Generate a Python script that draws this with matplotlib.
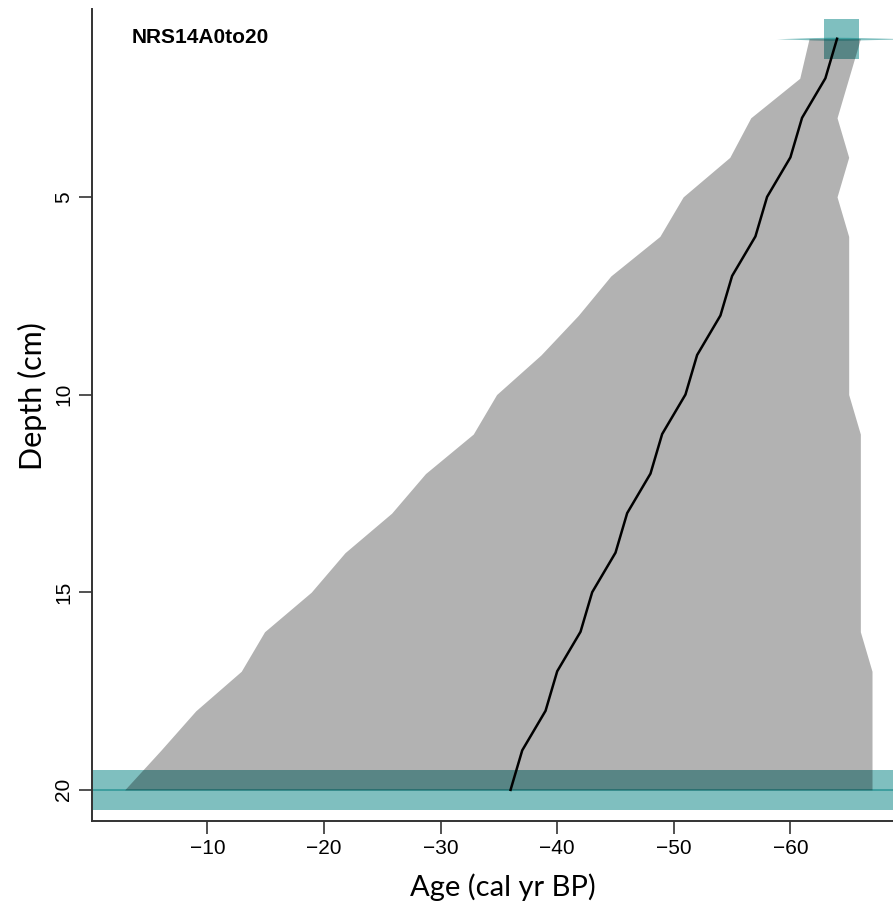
import matplotlib
matplotlib.use("Agg")
import matplotlib.pyplot as plt
from matplotlib.patches import Rectangle

# Age-depth model summary (ages in cal yr BP, negative = post-1950)
depths = [1, 2, 3, 4, 5, 6, 7, 8, 9, 10, 11, 12, 13, 14, 15, 16, 17, 18, 19, 20]
age_median = [-64, -63, -61, -60, -58, -57, -55, -54, -52, -51,
              -49, -48, -46, -45, -43, -42, -40, -39, -37, -36]
age_min = [-61.6, -60.8, -56.6, -54.8, -50.8, -48.8, -44.6, -41.8, -38.6, -34.8,
           -32.8, -28.7, -25.8, -21.8, -18.9, -14.9, -12.9, -9.0, -6.0, -2.9]
age_max = [-66, -65, -64, -65, -64, -65, -65, -65, -65, -65,
           -66, -66, -66, -66, -66, -66, -67, -67, -67, -67]

# Dated levels: depth, sample thickness, age range of the date box
date_depths = [1, 20]
date_thickness = [1.0, 1.0]
date_age_lo = [-62.9, 10.0]
date_age_hi = [-65.9, -80.0]

# Calibrated age distribution of the top date (age, half-height in cm)
top_dist_age = [-58.8, -60.5, -62.0, -63.5, -65.0, -66.5, -68.0, -70.0]
top_dist_half = [0.0, 0.015, 0.03, 0.038, 0.035, 0.025, 0.015, 0.0]
# Bottom date distribution is nearly flat across the whole age range
bot_dist_age = [10.0, -80.0]
bot_dist_half = [0.03, 0.03]

core_name = "NRS14A0to20"
x_ticks = [-10, -20, -30, -40, -50, -60]
y_ticks = [5, 10, 15, 20]

W, H = 893, 911
fig = plt.figure(figsize=(W / 100, H / 100), dpi=100)
ax_left, ax_right, ax_top, ax_bottom = 92, 893, 9.5, 820.7
ax = fig.add_axes([ax_left / W, 1 - ax_bottom / H,
                   (ax_right - ax_left) / W, (ax_bottom - ax_top) / H])

teal = "#008080"

# date boxes
for d, t, lo, hi in zip(date_depths, date_thickness, date_age_lo, date_age_hi):
    ax.add_patch(Rectangle((lo, d - t / 2), hi - lo, t, facecolor=teal,
                           alpha=0.5, edgecolor="none", zorder=1))

# calibrated distributions drawn sideways at their depths
ax.fill_between(top_dist_age,
                [date_depths[0] - h for h in top_dist_half],
                [date_depths[0] + h for h in top_dist_half],
                color=teal, alpha=0.5, linewidth=0, zorder=2)
ax.fill_between(bot_dist_age,
                [date_depths[1] - h for h in bot_dist_half],
                [date_depths[1] + h for h in bot_dist_half],
                color=teal, alpha=0.5, linewidth=0, zorder=2)

# model range (grey envelope) and median
ax.fill_betweenx(depths, age_min, age_max, color="black", alpha=0.3,
                 linewidth=0, zorder=3)
ax.plot(age_median, depths, color="black", linewidth=1.8, zorder=4)

ax.set_xlim(-0.1, -68.8)
ax.set_ylim(20.78, 0.26)

ax.spines["top"].set_visible(False)
ax.spines["right"].set_visible(False)
for s in ("left", "bottom"):
    ax.spines[s].set_linewidth(1.4)
    ax.spines[s].set_color("#333333")

ax.set_xticks(x_ticks)
ax.set_xticklabels(["\u2212%d" % abs(v) for v in x_ticks],
                   family="Liberation Sans", fontsize=15)
ax.set_yticks(y_ticks)
ax.set_yticklabels([str(v) for v in y_ticks], family="Liberation Sans",
                   fontsize=15, rotation=90, va="center")
ax.tick_params(axis="both", length=9.5, width=1.2, color="#333333", pad=4)

fig.text(132 / W, 1 - 43 / H, core_name, family="Liberation Sans",
         fontweight="bold", fontsize=15, va="baseline", ha="left")
fig.text(503 / W, 1 - 887 / H, "Age (cal yr BP)", family="Lato",
         fontsize=21, ha="center", va="center")
fig.text(32 / W, 1 - 396 / H, "Depth (cm)", family="Lato",
         fontsize=22, ha="center", va="center", rotation=90)

fig.savefig("out.png", dpi=100)
